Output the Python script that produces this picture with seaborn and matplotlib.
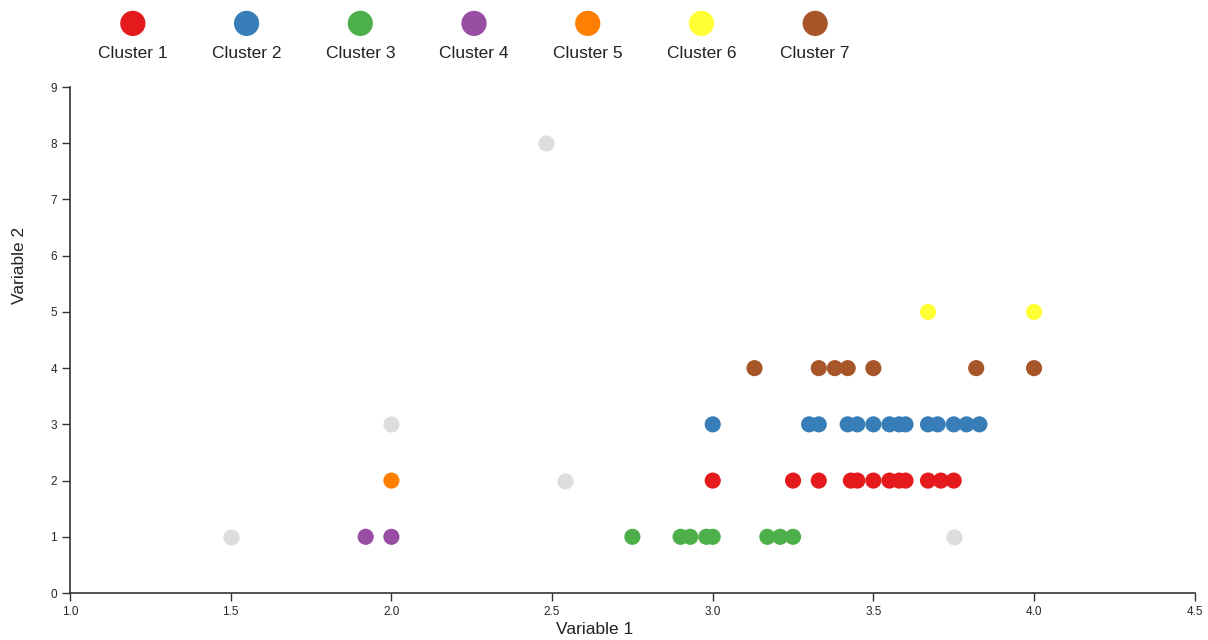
import pandas as pd
import matplotlib.pyplot as plt
import seaborn as sns

# Cluster points (variable 1, variable 2)
c1_x = [3.0, 3.25, 3.33, 3.43, 3.45, 3.5, 3.55, 3.58, 3.6, 3.67, 3.71, 3.75]
c1_y = [2] * 12
c2_x = [3.0, 3.3, 3.33, 3.42, 3.45, 3.5, 3.55, 3.58, 3.6, 3.67, 3.7, 3.75, 3.79, 3.83]
c2_y = [3] * 14
c3_x = [2.75, 2.9, 2.93, 2.98, 3.0, 3.17, 3.21, 3.25]
c3_y = [1] * 8
c4_x = [1.92, 2.0]
c4_y = [1, 1]
c5_x = [2.0]
c5_y = [2]
c6_x = [3.67, 4.0]
c6_y = [5, 5]
c7_x = [3.13, 3.33, 3.38, 3.42, 3.5, 3.82, 4.0]
c7_y = [4, 4, 4, 4, 4, 4, 4]
noise_x = [1.5, 2.0, 2.48, 2.54, 3.75]
noise_y = [1, 3, 8, 2, 1]

cluster_names = ["Cluster 1", "Cluster 2", "Cluster 3", "Cluster 4",
                 "Cluster 5", "Cluster 6", "Cluster 7"]
cluster_colors = ["#e41a1c", "#377eb8", "#4daf4a", "#984ea3",
                  "#ff7f00", "#ffff33", "#a65628"]
noise_color = "#dddddd"

xs = [c1_x, c2_x, c3_x, c4_x, c5_x, c6_x, c7_x]
ys = [c1_y, c2_y, c3_y, c4_y, c5_y, c6_y, c7_y]

rows = []
for name, x, y in zip(cluster_names, xs, ys):
    for a, b in zip(x, y):
        rows.append({"v1": a, "v2": b, "cluster": name})
data = pd.DataFrame(rows)
noise = pd.DataFrame({"v1": noise_x, "v2": noise_y})

sns.set_style("white")
plt.rcParams["font.family"] = ["Liberation Sans", "DejaVu Sans"]

fig = plt.figure(figsize=(12.08, 6.4), dpi=100)
ax = fig.add_axes([0.058, 0.0734, 0.931, 0.7906])

sns.scatterplot(data=noise, x="v1", y="v2", color=noise_color, s=135,
                linewidth=0, ax=ax, legend=False)
sns.scatterplot(data=data, x="v1", y="v2", hue="cluster",
                hue_order=cluster_names, palette=cluster_colors, s=135,
                linewidth=0, ax=ax, legend=False)

ax.set_xlim(1.0, 4.5)
ax.set_ylim(0, 9)
ax.set_xticks([1.0, 1.5, 2.0, 2.5, 3.0, 3.5, 4.0, 4.5])
ax.set_xticklabels(["1.0", "1.5", "2.0", "2.5", "3.0", "3.5", "4.0", "4.5"])
ax.set_yticks(range(10))
ax.tick_params(axis="both", labelsize=8.5, length=6, width=1, color="#333333",
               direction="out", left=True, bottom=True)
for side in ["top", "right"]:
    ax.spines[side].set_visible(False)
for side in ["left", "bottom"]:
    ax.spines[side].set_color("#333333")
    ax.spines[side].set_linewidth(1.2)
ax.set_xlabel("Variable 1", fontsize=12.5, color="#222222")
ax.set_ylabel("Variable 2", fontsize=12.5, color="#222222")
ax.xaxis.set_label_coords(0.466, -0.058)
ax.yaxis.set_label_coords(-0.038, 0.648)

# Legend: circles on top, labels underneath
leg = fig.add_axes([0.0629, 0.89, 0.659, 0.1016])
leg_df = pd.DataFrame({"pos": range(len(cluster_names)),
                       "row": [1] * len(cluster_names),
                       "cluster": cluster_names})
sns.scatterplot(data=leg_df, x="pos", y="row", hue="cluster",
                hue_order=cluster_names, palette=cluster_colors, s=330,
                linewidth=0, ax=leg, legend=False)
for i, name in enumerate(cluster_names):
    leg.text(i, 0, name, ha="center", va="center", fontsize=12.5,
             color="#222222")
leg.set_xlim(-0.5, 6.5)
leg.set_ylim(-0.567, 1.6)
leg.axis("off")

plt.savefig("out.png", dpi=100)
